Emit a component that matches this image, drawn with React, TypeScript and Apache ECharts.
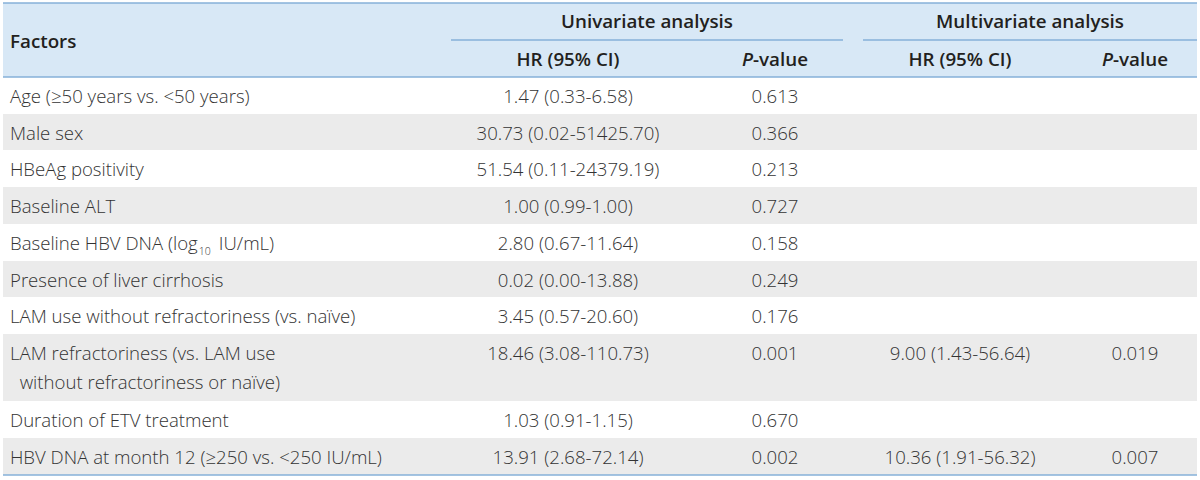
import React, { useEffect, useRef } from "react";
import * as echarts from "echarts";

const factors: string[] = [
  "Age (≥50 years vs. <50 years)",
  "Male sex",
  "HBeAg positivity",
  "Baseline ALT",
  "Baseline HBV DNA (log{sub|10}IU/mL)",
  "Presence of liver cirrhosis",
  "LAM use without refractoriness (vs. naïve)",
  "LAM refractoriness (vs. LAM use\n  without refractoriness or naïve)",
  "Duration of ETV treatment",
  "HBV DNA at month 12 (≥250 vs. <250 IU/mL)",
];
const uniHR: string[] = [
  "1.47 (0.33-6.58)",
  "30.73 (0.02-51425.70)",
  "51.54 (0.11-24379.19)",
  "1.00 (0.99-1.00)",
  "2.80 (0.67-11.64)",
  "0.02 (0.00-13.88)",
  "3.45 (0.57-20.60)",
  "18.46 (3.08-110.73)",
  "1.03 (0.91-1.15)",
  "13.91 (2.68-72.14)",
];
const uniP: string[] = ["0.613", "0.366", "0.213", "0.727", "0.158", "0.249", "0.176", "0.001", "0.670", "0.002"];
const multiHR: string[] = ["", "", "", "", "", "", "", "9.00 (1.43-56.64)", "", "10.36 (1.91-56.32)"];
const multiP: string[] = ["", "", "", "", "", "", "", "0.019", "", "0.007"];
const groupHeaders: string[] = ["Univariate analysis", "Multivariate analysis"];
const colHeaders: string[] = ["HR (95% CI)", "{it|P}-value", "HR (95% CI)", "{it|P}-value"];
const firstHeader = "Factors";

// layout
const L = 3;
const R = 1197;
const rowBounds = [77, 114, 150, 187, 224, 261, 297, 334, 401, 438, 475];
const colCenters = [568, 775, 960, 1135];
const spans = [
  [451, 843],
  [863, 1197],
];
const LINE = "#86b0d8";
const HEAD_BG = "#d8e8f6";
const GRAY = "#ebebeb";
const FONT = "'Open Sans', 'Noto Sans', sans-serif";
const BODY_COLOR = "#333333";
const HEAD_COLOR = "#231f20";
const HEAD_SIZE = 18.8;
const BODY_SIZE = 18.6;

export default function App() {
  const ref = useRef<HTMLDivElement>(null);
  useEffect(() => {
    if (!ref.current) return;
    const chart = echarts.init(ref.current, undefined, { renderer: "svg" });
    const els: any[] = [];
    els.push({ type: "rect", shape: { x: L, y: 3, width: R - L, height: 74 }, style: { fill: HEAD_BG }, silent: true });
    for (let i = 0; i < factors.length; i++) {
      if (i % 2 === 1) {
        els.push({
          type: "rect",
          shape: { x: L, y: rowBounds[i], width: R - L, height: rowBounds[i + 1] - rowBounds[i] },
          style: { fill: GRAY },
          silent: true,
        });
      }
    }
    const hline = (x1: number, x2: number, y: number) =>
      els.push({ type: "line", shape: { x1, y1: y, x2, y2: y }, style: { stroke: LINE, lineWidth: 1.6 }, silent: true });
    hline(L, R, 3);
    hline(L, R, 77);
    hline(L, R, 475);
    spans.forEach((s) => hline(s[0], s[1], 40));

    const headStyle = {
      fontFamily: FONT,
      fontSize: HEAD_SIZE,
      fontWeight: 600,
      fill: HEAD_COLOR,
      textVerticalAlign: "middle",
    };
    els.push({ type: "text", style: { ...headStyle, text: firstHeader, x: 10, y: 41, textAlign: "left" } });
    groupHeaders.forEach((g, i) => {
      els.push({
        type: "text",
        style: { ...headStyle, text: g, x: (spans[i][0] + spans[i][1]) / 2, y: 21, textAlign: "center" },
      });
    });
    colHeaders.forEach((h, i) => {
      els.push({
        type: "text",
        style: {
          ...headStyle,
          text: h,
          x: colCenters[i],
          y: 59,
          textAlign: "center",
          rich: { it: { fontStyle: "italic", fontWeight: 600, fontFamily: FONT, fontSize: HEAD_SIZE, fill: HEAD_COLOR } },
        },
      });
    });

    const bodyStyle = {
      fontFamily: FONT,
      fontSize: BODY_SIZE,
      fontWeight: 300,
      fill: BODY_COLOR,
      textVerticalAlign: "middle",
    };
    for (let i = 0; i < factors.length; i++) {
      const top = rowBounds[i];
      const h = rowBounds[i + 1] - top;
      const multi = factors[i].includes("\n");
      const yFirst = multi ? top + 18.5 : top + h / 2;
      if (multi) {
        const parts = factors[i].split("\n");
        els.push({ type: "text", style: { ...bodyStyle, text: parts[0], x: 10, y: yFirst, textAlign: "left" } });
        els.push({ type: "text", style: { ...bodyStyle, text: parts[1], x: 10, y: yFirst + 29, textAlign: "left" } });
      } else {
        els.push({
          type: "text",
          style: {
            ...bodyStyle,
            text: factors[i],
            x: 10,
            y: yFirst,
            textAlign: "left",
            rich: {
              sub: {
                fontFamily: FONT,
                fontSize: 10.5,
                fontWeight: 300,
                fill: BODY_COLOR,
                padding: [17, 8, 0, 1],
              },
            },
          },
        });
      }
      const vals = [uniHR[i], uniP[i], multiHR[i], multiP[i]];
      vals.forEach((v, j) => {
        if (!v) return;
        els.push({ type: "text", style: { ...bodyStyle, text: v, x: colCenters[j], y: yFirst, textAlign: "center" } });
      });
    }

    chart.setOption({ animation: false, graphic: { elements: els } });
    return () => chart.dispose();
  }, []);
  return <div ref={ref} style={{ position: "fixed", left: 0, top: 0, width: 1200, height: 480, background: "#fff" }} />;
}
